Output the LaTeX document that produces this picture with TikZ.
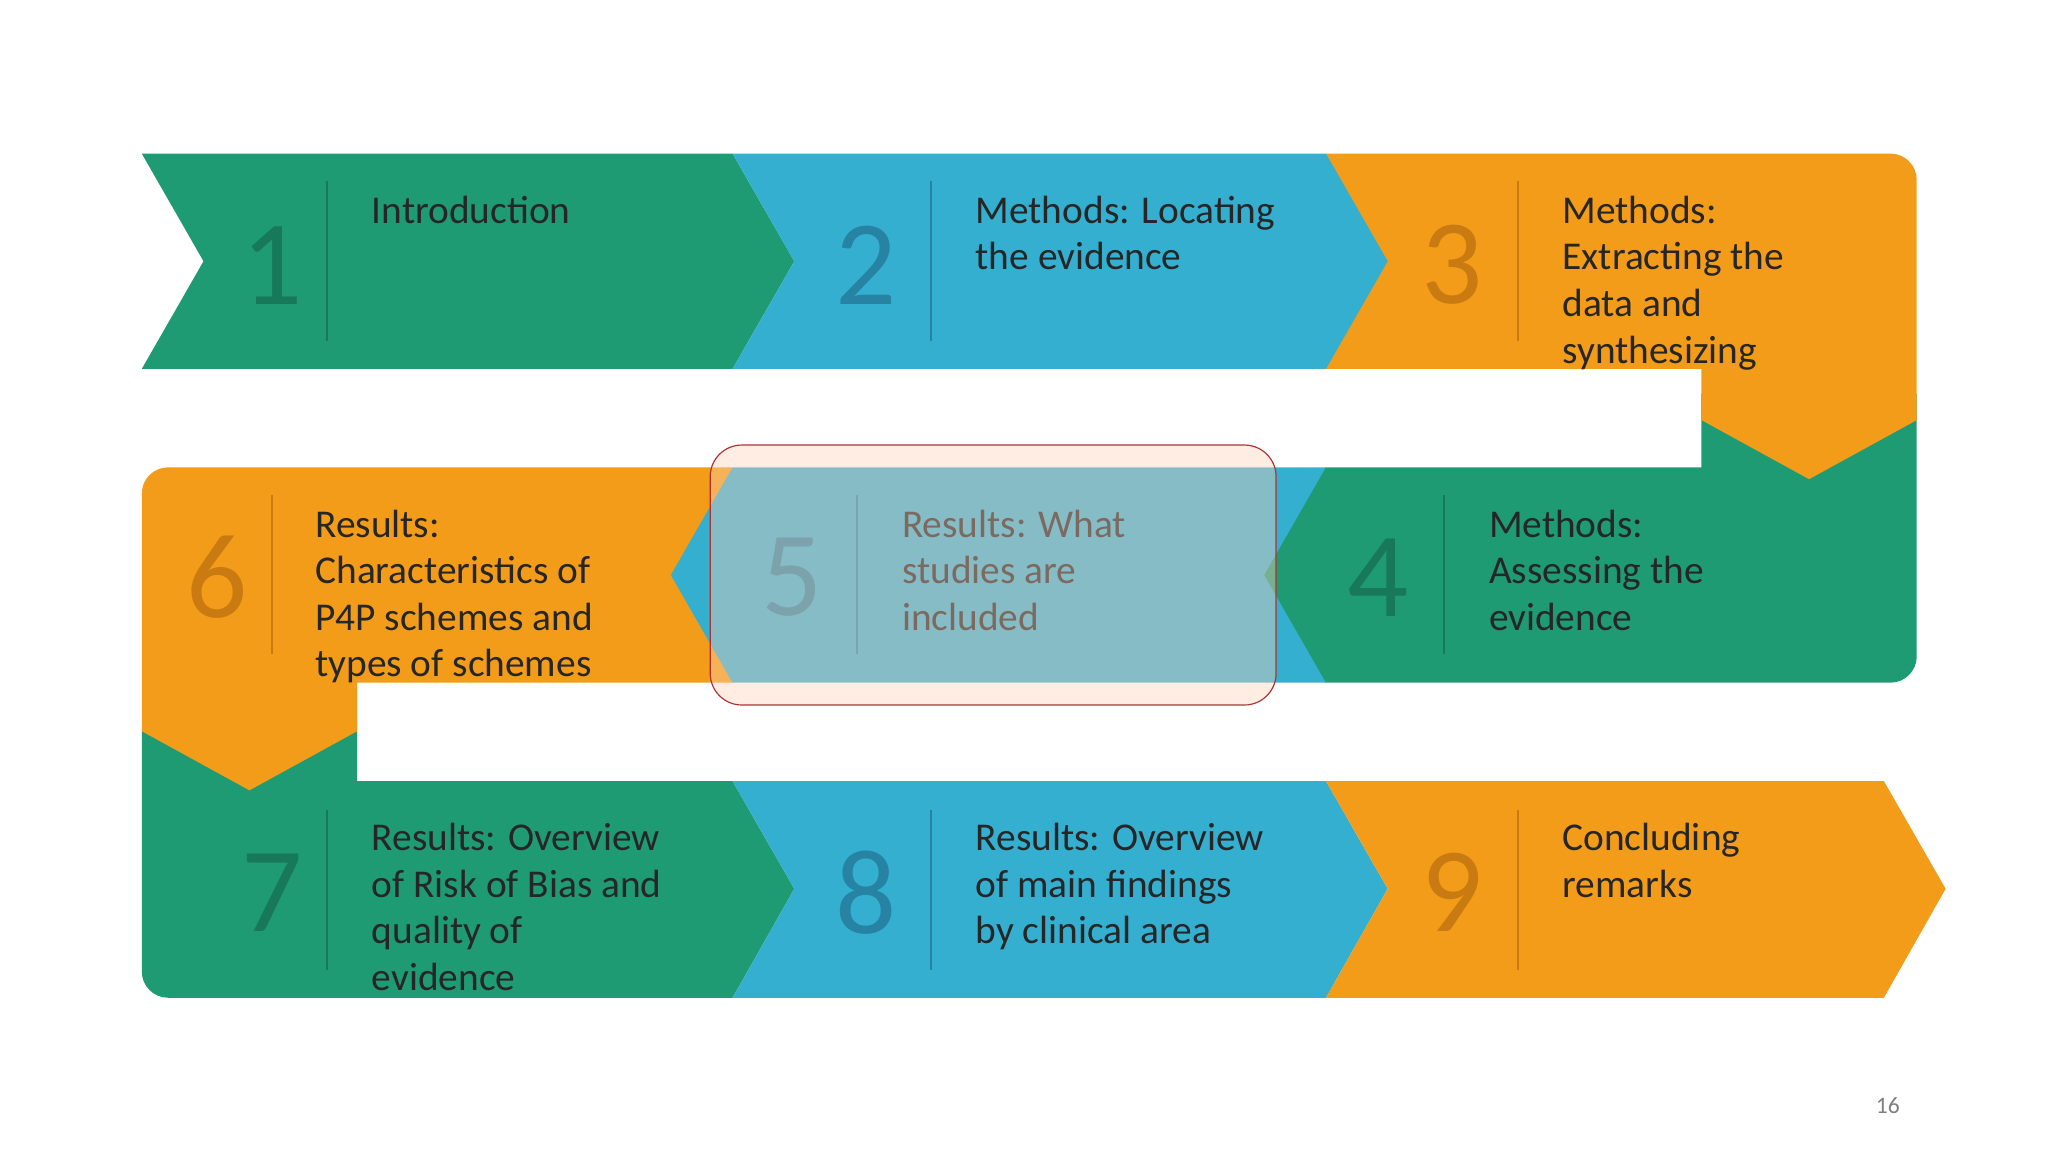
\documentclass[tikz,border=0pt]{standalone}
\usepackage{fontspec}
\setmainfont{Carlito}
\begin{document}
\begin{tikzpicture}[x=1pt,y=-1pt,
  txt/.style={anchor=north west,inner sep=0pt,align=left,font=\fontsize{30}{35.5}\selectfont,text=black!85},
  num/.style={inner sep=0pt,font=\fontsize{92}{92}\selectfont},
  dv/.style={line width=1.6pt}]
\definecolor{G}{HTML}{1F9B74}\definecolor{B}{HTML}{35AFD0}\definecolor{O}{HTML}{F29C1A}
\definecolor{Gd}{HTML}{17785A}\definecolor{Bd}{HTML}{2683A3}\definecolor{Od}{HTML}{C97A10}
\useasboundingbox (0,0) rectangle (1560,877.5);
% row 1
\fill[G] (108,117) -- (558,117) -- (605,199) -- (558,281) -- (108,281) -- (155,199) -- cycle;
% row 2 green 4 (under orange 3)
\fill[G] (1010,356) -- (1296,356) -- (1296,300) -- (1460,300) -- (1460,500) arc[start angle=0,end angle=90,radius=20] -- (1010,520) -- (963,438) -- cycle;
\fill[O] (1010,117) -- (1440,117) arc[start angle=-90,end angle=0,radius=20] -- (1460,320) -- (1378,365) -- (1296,320) -- (1296,281) -- (1010,281) -- cycle;
\fill[B] (558,117) -- (1010,117) -- (1057,199) -- (1010,281) -- (558,281) -- (605,199) -- cycle;
% row 3 green 7 (under orange 6)
\fill[G] (108,557) -- (272,557) -- (272,595) -- (558,595) -- (605,677) -- (558,760) -- (128,760) arc[start angle=90,end angle=180,radius=20] -- cycle;
\fill[O] (128,356) -- (558,356) -- (558,520) -- (272,520) -- (272,557) -- (190,602) -- (108,557) -- (108,376) arc[start angle=180,end angle=270,radius=20] -- cycle;
\fill[B] (558,356) -- (1010,356) -- (1010,520) -- (558,520) -- (511,438) -- cycle;
\fill[G] (1010,356) -- (1010,520) -- (963,438) -- cycle;
\fill[B] (558,595) -- (1010,595) -- (1057,677) -- (1010,760) -- (558,760) -- (605,677) -- cycle;
\fill[O] (1010,595) -- (1435,595) -- (1482,677) -- (1435,760) -- (1010,760) -- (1057,677) -- cycle;
% numbers & dividers
\node[num,text=Gd] (n1) at (207,202) {1}; \draw[dv,Gd] (249,138) -- (249,260);
\node[num,text=Bd] (n2) at (660,202) {2}; \draw[dv,Bd] (709,138) -- (709,260);
\node[num,text=Od] (n3) at (1106,202) {3}; \draw[dv,Od] (1156,138) -- (1156,260);
\node[num,text=Od] (n6) at (165,440) {6}; \draw[dv,Od] (207,377) -- (207,498);
\node[num,text=Bd] (n5) at (603,440) {5}; \draw[dv,Bd] (653,377) -- (653,498);
\node[num,text=Gd] (n4) at (1050,440) {4}; \draw[dv,Gd] (1100,377) -- (1100,498);
\node[num,text=Gd] (n7) at (207,680) {7}; \draw[dv,Gd] (249,617) -- (249,739);
\node[num,text=Bd] (n8) at (660,680) {8}; \draw[dv,Bd] (709,617) -- (709,739);
\node[num,text=Od] (n9) at (1106,680) {9}; \draw[dv,Od] (1156,617) -- (1156,739);
% texts
\node[txt] (t1) at (283,145) {\strut Introduction};
\node[txt] (t2) at (743,145) {\strut Methods: Locating\\\strut the evidence};
\node[txt] (t3) at (1190,145) {\strut Methods:\\\strut Extracting the\\\strut data and\\\strut synthesizing};
\node[txt] (t6) at (240,384) {\strut Results:\\\strut Characteristics of\\\strut P4P schemes and\\\strut types of schemes};
\node[txt] (t5) at (687,384) {\strut Results: What\\\strut studies are\\\strut included};
\node[txt] (t4) at (1134,384) {\strut Methods:\\\strut Assessing the\\\strut evidence};
\node[txt] (t7) at (283,623) {\strut Results: Overview\\\strut of Risk of Bias and\\\strut quality of\\\strut evidence};
\node[txt] (t8) at (743,623) {\strut Results: Overview\\\strut of main findings\\\strut by clinical area};
\node[txt] (t9) at (1190,623) {\strut Concluding\\\strut remarks};
% highlight overlay
\fill[fill=white!60!pink!80!orange,fill opacity=0.4,rounded corners=24pt] (541,339) rectangle (972,537);
\draw[draw=red!60!black!80,line width=0.9pt,rounded corners=24pt] (541,339) rectangle (972,537);
\node[inner sep=0pt,font=\fontsize{18}{20}\selectfont,text=black!50] (pg) at (1438,842) {16};
\end{tikzpicture}
\end{document}
